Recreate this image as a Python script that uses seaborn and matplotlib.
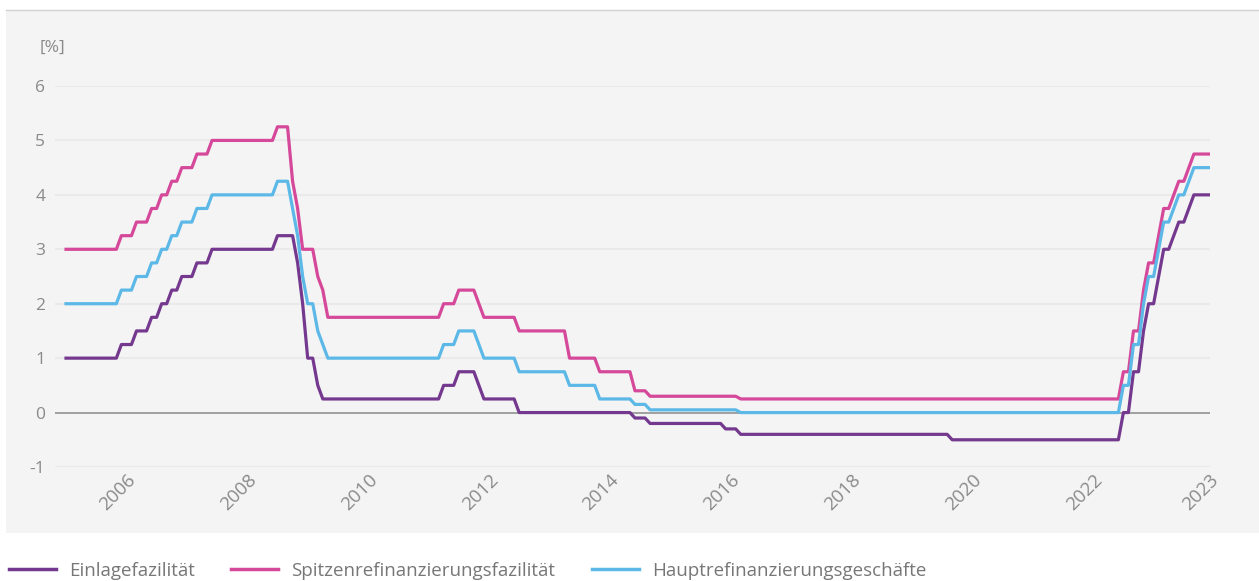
import matplotlib
matplotlib.use("Agg")
import matplotlib.pyplot as plt
from matplotlib.patches import Rectangle
from matplotlib.lines import Line2D
import seaborn as sns
import pandas as pd
import numpy as np

# ECB key interest rates (step changes)
change_dates = ["2005-01-01", "2005-12-06", "2006-03-08", "2006-06-15", "2006-08-09",
                "2006-10-11", "2006-12-13", "2007-03-14", "2007-06-13", "2008-07-09",
                "2008-10-09", "2008-11-12", "2008-12-10", "2009-01-21", "2009-03-11",
                "2009-04-08", "2009-05-13", "2011-04-13", "2011-07-13", "2011-11-09",
                "2011-12-14", "2012-07-11", "2013-05-08", "2013-11-13", "2014-06-11",
                "2014-09-10", "2015-12-09", "2016-03-16", "2019-09-18", "2022-07-27",
                "2022-09-14", "2022-11-02", "2022-12-21", "2023-02-08", "2023-03-22",
                "2023-05-10", "2023-06-21", "2023-08-02", "2023-09-20"]
einlage = [1.00, 1.25, 1.50, 1.75, 2.00, 2.25, 2.50, 2.75, 3.00, 3.25,
           3.25, 2.75, 2.00, 1.00, 0.50, 0.25, 0.25, 0.50, 0.75, 0.50,
           0.25, 0.00, 0.00, 0.00, -0.10, -0.20, -0.30, -0.40, -0.50, 0.00,
           0.75, 1.50, 2.00, 2.50, 3.00, 3.25, 3.50, 3.75, 4.00]
spitzen = [3.00, 3.25, 3.50, 3.75, 4.00, 4.25, 4.50, 4.75, 5.00, 5.25,
           4.25, 3.75, 3.00, 3.00, 2.50, 2.25, 1.75, 2.00, 2.25, 2.00,
           1.75, 1.50, 1.00, 0.75, 0.40, 0.30, 0.30, 0.25, 0.25, 0.75,
           1.50, 2.25, 2.75, 3.25, 3.75, 4.00, 4.25, 4.50, 4.75]
haupt = [2.00, 2.25, 2.50, 2.75, 3.00, 3.25, 3.50, 3.75, 4.00, 4.25,
         3.75, 3.25, 2.50, 2.00, 1.50, 1.25, 1.00, 1.25, 1.50, 1.25,
         1.00, 0.75, 0.50, 0.25, 0.15, 0.05, 0.05, 0.00, 0.00, 0.50,
         1.25, 2.00, 2.50, 3.00, 3.50, 3.75, 4.00, 4.25, 4.50]
series_names = ["Einlagefazilität", "Spitzenrefinanzierungsfazilität", "Hauptrefinanzierungsgeschäfte"]
colors = ["#74398e", "#d5489a", "#5cb8e7"]
tick_years = [2006, 2008, 2010, 2012, 2014, 2016, 2018, 2020, 2022, 2023]

# monthly (month-end) step series
steps = pd.DataFrame({series_names[0]: einlage, series_names[1]: spitzen,
                      series_names[2]: haupt}, index=pd.to_datetime(change_dates))
months = pd.date_range("2005-01-31", "2023-12-31", freq="ME")
monthly = steps.reindex(steps.index.union(months)).ffill().loc[months]
monthly["idx"] = np.arange(len(months))
long = monthly.melt(id_vars="idx", var_name="Serie", value_name="Zins")

W, H = 1259, 581
fig = plt.figure(figsize=(W / 100, H / 100), dpi=100)
fig.patches.append(Rectangle((6 / W, 1 - 533 / H), 1 - 6 / W, (533 - 10) / H,
                             transform=fig.transFigure, facecolor="#f4f4f4",
                             edgecolor="none", zorder=-10))
fig.lines.append(Line2D([6 / W, 1], [1 - 9.5 / H] * 2, transform=fig.transFigure,
                        color="#d3d3d3", lw=1, zorder=-9))

ax = fig.add_axes([55 / W, 1 - 467 / H, (1210 - 55) / W, (467 - 86) / H])
ax.set_zorder(1)
ax.set_facecolor("none")
for s in ax.spines.values():
    s.set_visible(False)

for y in range(-1, 7):
    if y != 0:
        ax.axhline(y, color="#eaeaea", lw=1.5, zorder=1)
ax.axhline(0, color="#8a8a8a", lw=1.1, zorder=2)

sns.lineplot(data=long, x="idx", y="Zins", hue="Serie", hue_order=series_names,
             palette=colors, linewidth=2.3, ax=ax, legend=False, zorder=3)

px_per_month = (1209 - 66) / 227
ax.set_xlim(-(66 - 55) / px_per_month, 227 + 1 / px_per_month)
ax.set_ylim(-1, 6)
ax.set_yticks(range(-1, 7))
ax.set_yticklabels([str(v) for v in range(-1, 7)])

tick_pos = [(y - 2005) * 12 for y in tick_years[:-1]] + [len(months) - 1]
ax.set_xticks(tick_pos)
ax.set_xticklabels([str(y) for y in tick_years], rotation=45, ha="right",
                   rotation_mode="anchor")
ax.tick_params(axis="y", length=0, colors="#8a8a8a", labelsize=12.5, pad=7)
ax.tick_params(axis="x", length=0, colors="#8a8a8a", labelsize=13.5, pad=3)
for lab in ax.get_xticklabels() + ax.get_yticklabels():
    lab.set_fontfamily("Open Sans")
ax.set_xlabel("")
ax.set_ylabel("")

fig.text(40 / W, 1 - 48 / H, "[%]", color="#8a8a8a", fontsize=12.5,
         family="Open Sans", va="center", ha="left")

handles = [Line2D([], [], color=c, lw=2.5) for c in colors]
fig.legend(handles, series_names, loc="center left",
           bbox_to_anchor=(9 / W, 1 - 571 / H), ncol=3, frameon=False,
           prop={"family": "Open Sans", "size": 13.5}, labelcolor="#777777",
           handlelength=2.5, handletextpad=0.7, columnspacing=1.95,
           borderaxespad=0, borderpad=0)

fig.savefig("out.png", dpi=100)
